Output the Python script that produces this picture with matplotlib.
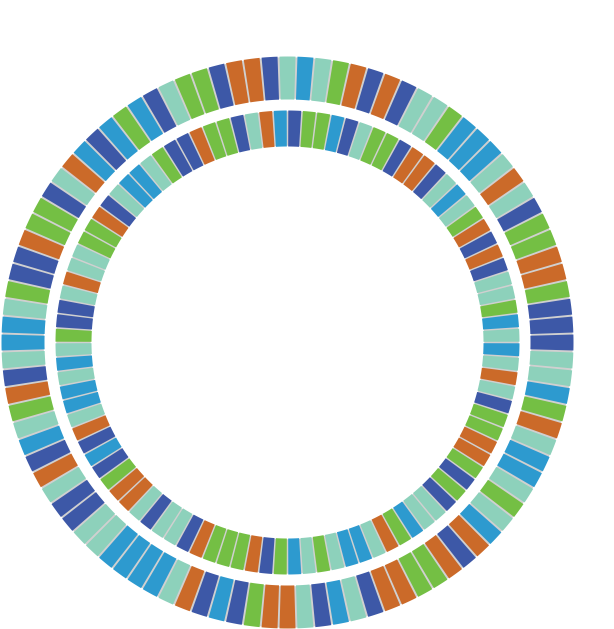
import matplotlib
matplotlib.use("Agg")
import matplotlib.pyplot as plt
import numpy as np

# Colour codes: N navy, T teal, G green, O orange, B blue
palette = {"N": "#3d58a7", "T": "#8dd1bb", "G": "#74bf44",
           "O": "#cb6a29", "B": "#2d9acf"}
sep_color = "#d0d0d0"

# Outer ring, clockwise from 12 o'clock, one quarter per string
outer_q1 = "TBTGONONTTGBBBTOTNGGOOGNN"
outer_q2 = "NTTBGOTBBTGTBONOGGOONTBNT"
outer_q3 = "OOGNBNOTBBBBTTNNTONBTGONT"
outer_q4 = "BBTGNNOGGNTOBNBGBNTGGNOON"

# Inner ring, clockwise from 12 o'clock
inner_q1 = "NGGBNTGGNOONTBTGONONTTGBT"
inner_q2 = "BTOTNGGOOGNGNTTBGOTBBTGTB"
inner_q3 = "GNOGGGONTTNTOOGNBNOTBBTBT"
inner_q4 = "GNNTOTTGGONTBBTGNNOGGNTOB"

outer_codes = list(outer_q1 + outer_q2 + outer_q3 + outer_q4)
inner_codes = list(inner_q1 + inner_q2 + inner_q3 + inner_q4)
outer_values = np.ones(len(outer_codes))
inner_values = np.ones(len(inner_codes))

fig = plt.figure(figsize=(6.14, 6.29), dpi=100)
ax = fig.add_axes([0, 0, 1, 1])
center = (287.5, 629 - 342.5)

rings = [
    # values, codes, radius, width, startangle
    (outer_values, outer_codes, 286, 43, 90 + 180 / len(outer_codes)),
    (inner_values, inner_codes, 232, 36, 90),
]

gap = 0.4  # degrees of grey between segments
for values, codes, radius, width, start in rings:
    # grey base ring shows through the gaps (kept just inside the arcs)
    ax.pie([1], radius=radius - 0.8, center=center, colors=[sep_color],
           wedgeprops=dict(width=width - 1.6, edgecolor="none"))
    wedges, _ = ax.pie(values, radius=radius, center=center,
                       colors=[palette[c] for c in codes],
                       startangle=start, counterclock=False,
                       wedgeprops=dict(width=width, edgecolor="none"))
    for w in wedges:
        w.set_theta1(w.theta1 + gap / 2)
        w.set_theta2(w.theta2 - gap / 2)

ax.set_xlim(0, 614)
ax.set_ylim(0, 629)
ax.set_aspect("equal")
ax.axis("off")

fig.savefig("out.png", dpi=100)
